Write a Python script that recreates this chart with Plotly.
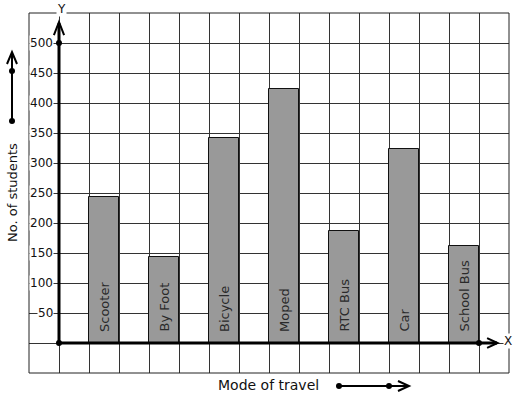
import plotly.graph_objects as go

modes = ["Scooter", "By Foot", "Bicycle", "Moped", "RTC Bus", "Car", "School Bus"]
students = [243, 143, 341, 423, 187, 323, 161]
y_ticks = [50, 100, 150, 200, 250, 300, 350, 400, 450, 500]

W, H = 517, 399
ML, MR, MT, MB = 29, 8, 13, 26
PW, PH = W - ML - MR, H - MT - MB
FONT = "DejaVu Sans"
INK = "#111111"

def px(xp):
    return (xp - ML) / PW

def py(yp):
    return (H - MB - yp) / PH

bar_x = [1.5 + 2 * i for i in range(len(modes))]

fig = go.Figure()
fig.add_trace(go.Bar(
    x=bar_x, y=students, width=1,
    marker=dict(color="#999999", line=dict(color="#111111", width=1)),
    hoverinfo="skip",
))

shapes = []
# axes
shapes.append(dict(type="line", xref="x", yref="y", x0=0, y0=0, x1=0, y1=533,
                   line=dict(color="black", width=3)))
shapes.append(dict(type="line", xref="x", yref="y", x0=0, y0=0, x1=14.6, y1=0,
                   line=dict(color="black", width=3)))
# arrowheads on axes
shapes.append(dict(type="path", xref="x", yref="y",
                   path="M -0.17 513 L 0 535 L 0.17 513",
                   line=dict(color="black", width=2)))
shapes.append(dict(type="path", xref="x", yref="y",
                   path="M 14.27 8 L 14.62 0 L 14.27 -8",
                   line=dict(color="black", width=2)))
# border
shapes.append(dict(type="rect", xref="paper", yref="paper", x0=0, y0=0, x1=1, y1=1,
                   line=dict(color="#222222", width=1)))

# left arrow (outside)
shapes.append(dict(type="line", xref="paper", yref="paper", x0=px(12), y0=py(121),
                   x1=px(12), y1=py(53), line=dict(color="black", width=2)))
shapes.append(dict(type="path", xref="paper", yref="paper",
                   path=f"M {px(7)} {py(64)} L {px(12)} {py(52)} L {px(17)} {py(64)}",
                   line=dict(color="black", width=2)))
# bottom arrow (outside)
shapes.append(dict(type="line", xref="paper", yref="paper", x0=px(339), y0=py(386),
                   x1=px(408), y1=py(386), line=dict(color="black", width=2)))
shapes.append(dict(type="path", xref="paper", yref="paper",
                   path=f"M {px(398)} {py(381)} L {px(409)} {py(386)} L {px(398)} {py(391)}",
                   line=dict(color="black", width=2)))

def dot(xv, yv, xref, yref):
    return dict(type="circle", xref=xref, yref=yref, xsizemode="pixel", ysizemode="pixel",
                xanchor=xv, yanchor=yv, x0=-3, x1=3, y0=-3, y1=3,
                fillcolor="black", line=dict(color="black", width=0))

shapes += [dot(0, 0, "x", "y"), dot(0, 500, "x", "y"), dot(14, 0, "x", "y")]
shapes += [dot(px(12), py(121), "paper", "paper"), dot(px(12), py(71), "paper", "paper")]
shapes += [dot(px(339), py(386), "paper", "paper"), dot(px(389), py(386), "paper", "paper")]

annotations = []
for xv, m in zip(bar_x, modes):
    annotations.append(dict(x=xv, y=0, xref="x", yref="y", text=m, showarrow=False,
                            textangle=-90, xanchor="center", yanchor="bottom", yshift=9,
                            font=dict(family=FONT, size=13, color="#2a2a2a")))
for v in y_ticks:
    annotations.append(dict(x=0, y=v, xref="x", yref="y", text=str(v), showarrow=False,
                            xanchor="right", yanchor="middle", xshift=-5,
                            bgcolor="white", borderpad=0,
                            font=dict(family=FONT, size=12, color=INK)))
annotations.append(dict(x=0, y=1, xref="x", yref="paper", text="Y", showarrow=False,
                        xanchor="center", yanchor="middle", xshift=2, yshift=4,
                        bgcolor="white", borderpad=0,
                        font=dict(family=FONT, size=12, color=INK)))
annotations.append(dict(x=px(508), y=0, xref="paper", yref="y", text="X", showarrow=False,
                        xanchor="center", yanchor="middle", yshift=2,
                        bgcolor="white", borderpad=0,
                        font=dict(family=FONT, size=12, color=INK)))
annotations.append(dict(x=px(12), y=py(193), xref="paper", yref="paper",
                        text="No. of students", showarrow=False, textangle=-90,
                        xanchor="center", yanchor="middle",
                        font=dict(family=FONT, size=13, color=INK)))
annotations.append(dict(x=px(268), y=py(385), xref="paper", yref="paper",
                        text="Mode of travel", showarrow=False,
                        xanchor="center", yanchor="middle",
                        font=dict(family=FONT, size=14, color=INK)))

fig.update_layout(
    width=W, height=H,
    margin=dict(l=ML, r=MR, t=MT, b=MB, pad=0),
    paper_bgcolor="white", plot_bgcolor="white",
    showlegend=False, bargap=0,
    shapes=shapes, annotations=annotations,
    xaxis=dict(range=[-1, 15], tick0=0, dtick=1, showgrid=True, gridcolor="#333333",
               gridwidth=1, zeroline=False, showticklabels=False, ticks="",
               showline=False, fixedrange=True),
    yaxis=dict(range=[-50, 550], tick0=0, dtick=50, showgrid=True, gridcolor="#333333",
               gridwidth=1, zeroline=False, showticklabels=False, ticks="",
               showline=False, fixedrange=True),
)

fig.write_html("out.html")
